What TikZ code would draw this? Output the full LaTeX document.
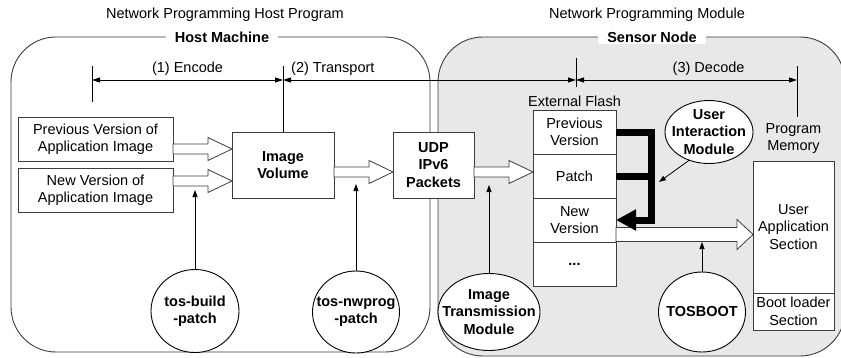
\documentclass[tikz,border=0pt]{standalone}
\usepackage{fontspec}
\setmainfont{Liberation Sans}
\usetikzlibrary{arrows.meta,calc,positioning,shapes.geometric}
\definecolor{zonegray}{RGB}{232,232,232}
\definecolor{edgegray}{RGB}{60,60,60}
\newcommand\fatw{5pt}\newcommand\fath{11.5pt}\newcommand\fatl{24pt}

\begin{document}
\begin{tikzpicture}[x=1pt,y=-1pt,% one unit = one pixel of the sketch, y runs down
    every node/.style={
      align=center,  % so that "\\" breaks lines
      font=\fontsize{14.5}{17.5}\selectfont,
      outer sep=0pt
    },
    boldtext/.style={font=\fontsize{14.5}{17.5}\selectfont\bfseries},
    zone/.style={draw=edgegray,line width=0.9pt,rounded corners=45pt},
    box/.style={rectangle,draw=edgegray,fill=white,line width=0.9pt,inner sep=2pt},
    bubble/.style={ellipse,draw=black,fill=white,line width=0.9pt,inner sep=0pt},
    tag/.style={fill=white,boldtext,inner xsep=9pt,inner ysep=2pt},
    pointer/.style={draw,line width=0.8pt,-{Triangle[length=7pt,width=5pt]}},
    dim/.style={draw,line width=0.8pt,{Triangle[length=8pt,width=5pt]}-{Triangle[length=8pt,width=5pt]}},
    tickline/.style={draw,line width=0.9pt},
    heavy/.style={draw,line width=7pt,line join=miter},
    fat size/.code args={#1/#2/#3}{\def\fatw{#1}\def\fath{#2}\def\fatl{#3}},
    fat/.style={draw=edgegray,fill=white,line width=0.8pt,
      to path={let \p1=(\tikztostart),\p2=(\tikztotarget) in
        (\x1,\y1+\fatw) -- (\x2-\fatl,\y1+\fatw) -- (\x2-\fatl,\y1+\fath) -- (\x2,\y1)
        -- (\x2-\fatl,\y1-\fath) -- (\x2-\fatl,\y1-\fatw) -- (\x1,\y1-\fatw) -- cycle}}
  ]
  \useasboundingbox (0,0) rectangle (841,357);

  % the two machines
  \draw[zone,fill=zonegray] (438,37) rectangle (845,356);
  \draw[zone] (11,37) rectangle (430,352);
  \node[tag] (hostlbl) at (222,37) {Host Machine};
  \node[tag] (senslbl) at (652,37) {Sensor Node};
  \node (hosttitle) at (225,15) {Network Programming Host Program};
  \node (modtitle) at (647,15) {Network Programming Module};

  % host side
  \node[box,minimum width=155pt,minimum height=44pt] (prev) at (95.5,139) {Previous Version of\\Application Image};
  \node[box,minimum width=155pt,minimum height=44pt,below=7pt of prev] (newapp) {New Version of\\Application Image};
  \node[box,boldtext,minimum width=102pt,minimum height=66pt] (vol) at (283,165) {Image\\Volume};
  \node[box,boldtext,minimum width=81pt,minimum height=66pt] (udp) at (433.5,165) {UDP\\IPv6\\Packets};

  % external flash
  \node[box,minimum width=83pt,minimum height=44pt] (prevv) at (574.5,132) {Previous\\Version};
  \node[box,minimum width=83pt,minimum height=44pt,below=0pt of prevv] (patch) {Patch};
  \node[box,minimum width=83pt,minimum height=44pt,below=0pt of patch] (newv) {New\\Version};
  \node[box,minimum width=83pt,minimum height=44pt,below=0pt of newv] (more) {\textbf{...}};
  \node[above=0pt of prevv] (flashlbl) {External Flash};

  % program memory
  \node[box,minimum width=81pt,minimum height=132pt] (appsec) at (793.5,227) {User\\Application\\Section};
  \node[box,minimum width=81pt,minimum height=37pt,inner sep=1pt,below=0pt of appsec] (bootsec) {Boot loader\\Section};
  \node[above=4pt of appsec] (memlbl) {Program\\Memory};

  % tools and modules
  \node[bubble,minimum width=88pt,minimum height=83pt,label={[boldtext]center:{tos-build\\-patch}}] (tbp) at (195,311) {};
  \node[bubble,minimum width=87pt,minimum height=82pt,label={[boldtext]center:{tos-nwprog\\-patch}}] (tnp) at (356,312) {};
  \node[bubble,minimum width=102pt,minimum height=77pt,label={[boldtext]center:{Image\\Transmission\\Module}}] (itm) at (489,312) {};
  \node[bubble,minimum width=87pt,minimum height=80pt,label={[boldtext]center:{TOSBOOT}}] (tosboot) at (702,312) {};
  \node[bubble,minimum width=88pt,minimum height=63pt,label={[boldtext]center:{User\\Interaction\\Module}}] (uim) at (709,132) {};

  % stages
  \coordinate (enc) at (92,80);
  \coordinate (dec) at (576,80);
  \coordinate (mem) at (797,80);
  \draw[tickline] (92,66) -- (92,102);
  \draw[tickline] (vol.north) -- ++(0,-66);
  \draw[tickline] (576,58) -- (576,87);
  \draw[tickline] (797,66) -- (797,117);
  \draw[dim] (enc) -- node[above=1pt] {(1) Encode} (vol.north |- enc);
  \draw[dim] (vol.north |- enc) -- node[pos=0.17,above=1pt] {(2) Transport} (dec);
  \draw[dim] (dec) -- node[pos=0.6,above=1pt] {(3) Decode} (mem);

  % data flow
  \draw[fat] ([yshift=-10pt]prev.east) to (vol.west);
  \draw[fat] ([yshift=9pt]newapp.east) to (vol.west);
  \draw[fat] ([yshift=-7pt]vol.east) to (udp.west);
  \draw[fat] ([yshift=-7pt]udp.east) to (patch.west);
  \draw[fat,fat size=7pt/15pt/16pt] ([yshift=-14.5pt]newv.east) to (appsec.west);

  % patching
  \coordinate (bend) at ($(prevv.east)+(35,0)$);
  \coordinate (uimtip) at ($(bend)+(8,50)$);
  \draw[heavy,-{Triangle[length=20pt,width=20pt]}] (prevv.east) -- (bend) |- (newv.east);
  \draw[heavy] (patch.east) -- (patch.east -| bend);

  \draw[pointer] (uim.235) -- (uimtip);
  \draw[pointer] (tbp) -- (tbp |- newapp.east);
  \draw[pointer] (tnp) -- ($(tnp |- vol.east)+(0,19)$);
  \draw[pointer] (itm) -- ($(itm |- udp.east)+(0,20)$);
  \draw[pointer] (tosboot) -- (tosboot |- newv.south);
\end{tikzpicture}
\end{document}
